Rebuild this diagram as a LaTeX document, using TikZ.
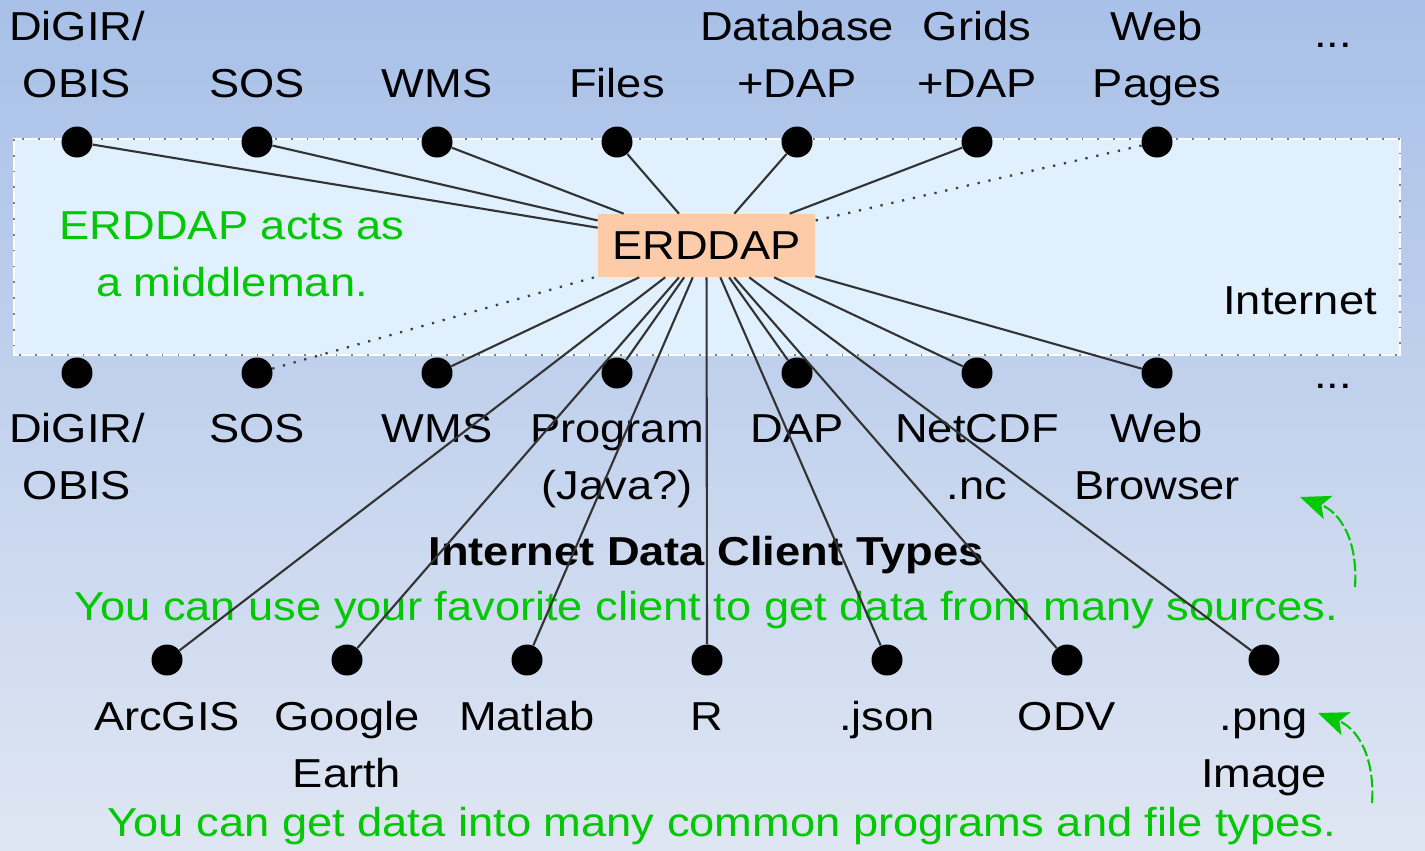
\documentclass[tikz,border=0pt]{standalone}
\usepackage{fontspec}
\setmainfont{Liberation Sans}[FakeStretch=1.12]
\usetikzlibrary{arrows.meta}

\definecolor{skytop}{RGB}{168,192,232}
\definecolor{skybottom}{RGB}{223,230,243}
\definecolor{netfill}{RGB}{224,240,255}
\definecolor{erdfill}{RGB}{253,203,168}
\definecolor{hintgreen}{RGB}{0,200,0}
\newcommand{\lblfont}{\fontsize{23}{57\dimexpr0.02cm\relax}\selectfont}

\tikzset{
  dot/.style={circle, fill=black, minimum size=0.62cm, inner sep=0pt},
  lbl/.style={font=\lblfont, align=center, anchor=base, inner sep=0pt},
  note/.style={lbl, text=hintgreen},
  link/.style={black!80, line width=1.2pt},
  weaklink/.style={black!75, line width=1.3pt, dash pattern=on 1.3pt off 5pt},
  hint/.style={hintgreen, line width=1.2pt, dash pattern=on 7pt off 2pt,
    -{Stealth[length=17pt,width=14pt,inset=4pt]}}
}

\begin{document}
\begin{tikzpicture}[x=0.02cm,y=-0.02cm]
\useasboundingbox (0,0) rectangle (1425,850);
% Background
\shade[top color=skytop, bottom color=skybottom] (0,0) rectangle (1425,850);

% Internet area
\draw[white, fill=netfill, line width=0.8pt] (14,139) rectangle (1400,355);
\draw[gray, line width=1pt, dash pattern=on 1pt off 8pt] (14,139) rectangle (1400,355);
\node[lbl] (internet) at (1300,314) {Internet};
\node[note] (middleman) at (232,296) {ERDDAP acts as\\a middleman.};

% The middleman
\node[fill=erdfill, minimum width=4.34cm, minimum height=1.26cm, inner sep=0pt,
  font=\lblfont] (erddap) at (706.5,245.5) {ERDDAP};

% Server types (top) and client types (middle)
\foreach \i/\x in {1/77,2/257,3/437,4/617,5/797,6/977,7/1157}{
  \node[dot] (t\i) at (\x,142) {};
  \node[dot] (m\i) at (\x,373) {};
}
\node[lbl] (tl1) at (77,97) {DiGIR/\\OBIS};
\node[lbl] (tl2) at (257,97) {SOS};
\node[lbl] (tl3) at (437,97) {WMS};
\node[lbl] (tl4) at (617,97) {Files};
\node[lbl] (tl5) at (797,97) {Database\\+DAP};
\node[lbl] (tl6) at (977,97) {Grids\\+DAP};
\node[lbl] (tl7) at (1157,97) {Web\\Pages};
\node[lbl] (tmore) at (1333,47) {...};

\node[lbl] (ml1) at (77,499) {DiGIR/\\OBIS};
\node[lbl] (ml2) at (257,442) {SOS};
\node[lbl] (ml3) at (437,442) {WMS};
\node[lbl] (ml4) at (617,499) {Program\\(Java?)};
\node[lbl] (ml5) at (797,442) {DAP};
\node[lbl] (ml6) at (977,499) {NetCDF\\.nc};
\node[lbl] (ml7) at (1157,499) {Web\\Browser};
\node[lbl] (mmore) at (1333,388) {...};

\node[lbl, font=\lblfont\bfseries] (clienttitle) at (706,565) {Internet Data Client Types};
\node[note] (favorite) at (706,620) {You can use your favorite client to get data from many sources.};

% Programs and file types (bottom)
\foreach \i/\x in {1/167,2/347,3/527,4/707,5/887,6/1067,7/1264}
  \node[dot] (b\i) at (\x,660) {};
\node[lbl] (bl1) at (167,730) {ArcGIS};
\node[lbl] (bl2) at (347,787) {Google\\Earth};
\node[lbl] (bl3) at (527,730) {Matlab};
\node[lbl] (bl4) at (707,730) {R};
\node[lbl] (bl5) at (887,730) {.json};
\node[lbl] (bl6) at (1067,730) {ODV};
\node[lbl] (bl7) at (1264,787) {.png\\Image};
\node[note] (common) at (722,836) {You can get data into many common programs and file types.};

% Links to ERDDAP
\foreach \i in {1,...,6}
  \draw[link] (t\i) -- (erddap);
\draw[weaklink] (t7) -- (erddap);
\draw[weaklink] (m2) -- (erddap);
\foreach \i in {3,...,7}
  \draw[link] (m\i) -- (erddap);
\foreach \i in {1,...,7}
  \draw[link] (b\i) -- (erddap);

% Green hints
\coordinate (h1s) at (1355,587);
\coordinate (h1e) at (1300,497);
\draw[hint] (h1s) .. controls (1358,540) and (1340,512) .. (h1e);
\coordinate (h2s) at (1372,803);
\coordinate (h2e) at (1318,713);
\draw[hint] (h2s) .. controls (1375,756) and (1357,728) .. (h2e);
\end{tikzpicture}
\end{document}
